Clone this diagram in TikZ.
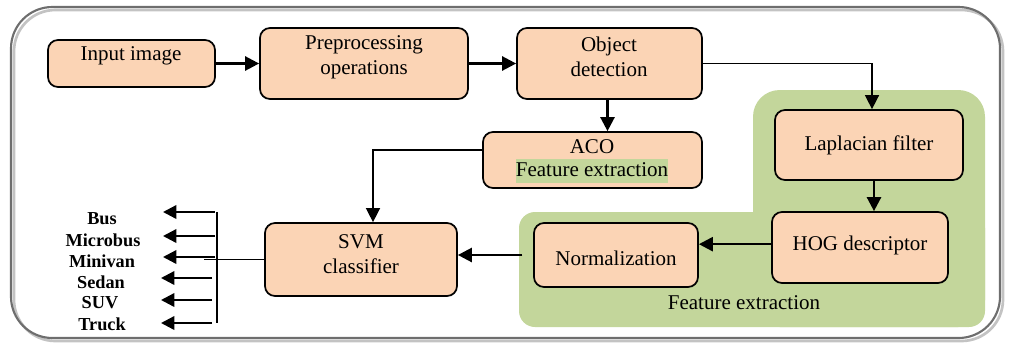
\documentclass[tikz,border=0pt]{standalone}
\usepackage{fontspec}
\setmainfont{Liberation Serif}
\usetikzlibrary{arrows.meta,fit}
\definecolor{peach}{RGB}{251,212,181}
\definecolor{fgreen}{RGB}{195,214,155}
\definecolor{framedark}{RGB}{110,110,110}
\definecolor{framelight}{RGB}{195,195,195}
\begin{document}
\begin{tikzpicture}[x=0.75pt,y=-0.75pt,
 box/.style={draw=black, line width=1.3pt, fill=peach, rounded corners=7.5pt, inner sep=0pt},
 txt/.style={font=\fontsize{15.75}{18.75}\selectfont, align=center, inner sep=0pt},
 lab/.style={font=\bfseries\fontsize{13.7}{16}\selectfont, inner sep=0pt},
 bigarrow/.style={line width=1.9pt, -{Triangle[length=10.5pt,width=10.5pt]}},
 thinarrow/.style={line width=1.1pt, -{Triangle[length=10.5pt,width=10.5pt]}},
 outarrow/.style={line width=1.8pt, -{Triangle[length=10pt,width=10pt]}}]
\useasboundingbox (0,0) rectangle (1011,344);
% frame
\draw[line width=2pt, framelight, rounded corners=31pt] (14,10) rectangle (1003,341);
\draw[line width=1.6pt, framedark, rounded corners=31pt] (11,7) rectangle (1000,338);
% green region
\fill[fgreen, rounded corners=20pt] (753,90) rectangle (985,327);
\fill[fgreen, rounded corners=12pt] (519,212) rectangle (985,327);
% boxes
\node[box, fit={(48,40) (215,87)}] (in) {};
\node[txt] (inT) at (131,56) {Input image};
\node[box, fit={(260,28) (468,99)}] (pre) {};
\node[txt] (preT) at (364,57) {Preprocessing\\operations};
\node[box, fit={(517,28) (702,99)}] (obj) {};
\node[txt] (objT) at (609,57) {Object\\detection};
\node[box, fit={(483,132) (702,188)}] (aco) {};
\node[txt] (acoT) at (592,147) {ACO};
\node[txt, fill=fgreen, text height=13.5pt, text depth=5pt] (acoF) at (592,171) {Feature extraction};
\node[box, fit={(775,110) (963,180)}] (lap) {};
\node[txt] (lapT) at (lap.center) {Laplacian filter};
\node[box, fit={(772,212) (948,283)}] (hog) {};
\node[txt] (hogT) at (860,245) {HOG descriptor};
\node[box, fit={(534,223) (698,287)}] (norm) {};
\node[txt] (normT) at (616,258) {Normalization};
\node[box, fit={(265,223) (457,296)}] (svm) {};
\node[txt] (svmT) at (361,254) {SVM\\classifier};
\node[txt] (feT) at (744,303) {Feature extraction};
% arrows
\draw[bigarrow] (in.east) -- (pre.west);
\draw[bigarrow] (pre.east) -- (obj.west);
\draw[thinarrow] (obj.east) -| ([xshift=2.25pt]lap.north);
\draw[bigarrow] ([xshift=-1.5pt]obj.south) -- ([xshift=-1.5pt]obj.south |- aco.north);
\draw[thinarrow] ([yshift=7.5pt]aco.west) -| ([xshift=9pt]svm.north);
\draw[bigarrow] ([xshift=3.75pt]lap.south) -- ([xshift=3.75pt]lap.south |- hog.north);
\draw[bigarrow] ([yshift=2.5pt]hog.west) -- ([yshift=2.5pt]hog.west -| norm.east);
\draw[bigarrow, shorten <=8pt] (norm.west) -- (norm.west -| svm.east);
% outputs
\coordinate (bar) at (204,257);
\draw[line width=1.1pt] (svm.west) -- (svm.west -| bar);
\coordinate (barTop) at (217,212);
\coordinate (barBot) at (217,323);
\draw[line width=1.1pt] (barTop) -- (barBot);
\coordinate (s1) at (215,212); \coordinate (e1) at (163,212);
\coordinate (s2) at (215,236); \coordinate (e2) at (163,236);
\coordinate (s3) at (215,257); \coordinate (e3) at (163,257);
\coordinate (s4) at (212,278); \coordinate (e4) at (161,278);
\coordinate (s5) at (212,300); \coordinate (e5) at (161,300);
\coordinate (s6) at (212,323); \coordinate (e6) at (161,323);
\foreach \i in {1,...,6} \draw[outarrow] (s\i) -- (e\i);
\node[lab] (l1) at (102,219) {Bus};
\node[lab] (l2) at (103,240) {Microbus};
\node[lab] (l3) at (102,261) {Minivan};
\node[lab] (l4) at (101,282) {Sedan};
\node[lab] (l5) at (100,303) {SUV};
\node[lab] (l6) at (102,324) {Truck};
\end{tikzpicture}
\end{document}
